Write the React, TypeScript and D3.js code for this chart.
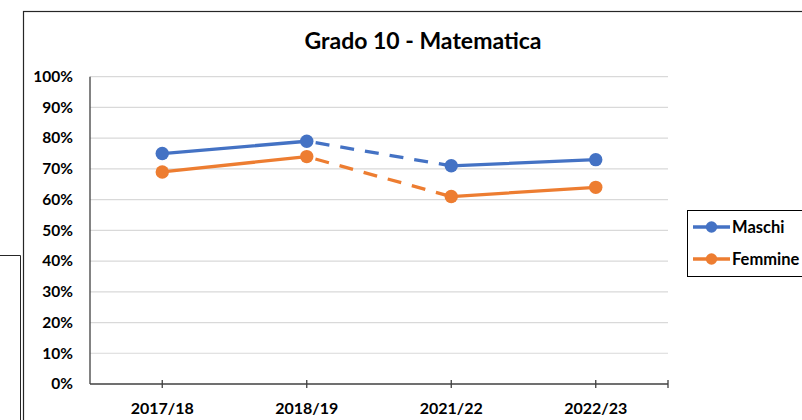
import React, { useEffect, useRef } from 'react';
import * as d3 from 'd3';

const categories = ['2017/18', '2018/19', '2021/22', '2022/23'];
const maschi = [75, 79, 71, 73];
const femmine = [69, 74, 61, 64];
const yTicks = [0, 10, 20, 30, 40, 50, 60, 70, 80, 90, 100];
const seriesNames = ['Maschi', 'Femmine'];
const seriesColors = ['#4472C4', '#ED7D31'];
// index of the segment that is drawn dashed (2018/19 -> 2021/22)
const dashedSegment = 1;

const FONT = 'Lato, Carlito, Calibri, sans-serif';

export default function App() {
  const ref = useRef<SVGSVGElement>(null);

  useEffect(() => {
    const svg = d3.select(ref.current);
    svg.selectAll('*').remove();

    const width = 802;
    const height = 420;
    const plot = { left: 90, right: 668, top: 76.7, bottom: 384 };

    const x = d3.scaleBand<string>().domain(categories).range([plot.left, plot.right]).padding(0);
    const cx = (c: string) => (x(c) as number) + x.bandwidth() / 2;
    const y = d3.scaleLinear().domain([0, 100]).range([plot.bottom, plot.top]);

    svg.append('rect').attr('width', width).attr('height', height).attr('fill', '#fff');

    // chart behind, on the left
    svg.append('path')
      .attr('d', 'M0,255.5 H20.5 V420')
      .attr('fill', 'none')
      .attr('stroke', '#262626')
      .attr('stroke-width', 1);

    // chart frame
    svg.append('rect')
      .attr('x', 23.5).attr('y', 11.5)
      .attr('width', 820).attr('height', 430)
      .attr('fill', '#fff')
      .attr('stroke', '#262626')
      .attr('stroke-width', 1.2);

    svg.append('text')
      .attr('x', 423).attr('y', 49)
      .attr('text-anchor', 'middle')
      .attr('font-family', FONT)
      .attr('font-weight', 700)
      .attr('font-size', 23)
      .attr('fill', '#000')
      .text('Grado 10 - Matematica');

    // gridlines
    svg.append('g').selectAll('line')
      .data(yTicks.filter(t => t > 0))
      .enter().append('line')
      .attr('x1', plot.left).attr('x2', plot.right)
      .attr('y1', d => y(d)).attr('y2', d => y(d))
      .attr('stroke', '#D9D9D9')
      .attr('stroke-width', 1.2);

    // y labels
    svg.append('g').selectAll('text')
      .data(yTicks)
      .enter().append('text')
      .attr('x', 73)
      .attr('y', d => y(d) + 5.3)
      .attr('text-anchor', 'end')
      .attr('font-family', FONT)
      .attr('font-weight', 700)
      .attr('font-size', 15.5)
      .attr('fill', '#000')
      .text(d => d + '%');

    // axes
    svg.append('line')
      .attr('x1', plot.left).attr('x2', plot.left)
      .attr('y1', plot.top).attr('y2', plot.bottom)
      .attr('stroke', '#404040').attr('stroke-width', 1.3);
    svg.append('line')
      .attr('x1', plot.left).attr('x2', plot.right)
      .attr('y1', plot.bottom).attr('y2', plot.bottom)
      .attr('stroke', '#404040').attr('stroke-width', 1.3);

    const tickXs = categories.map(cx).concat([plot.right]);
    svg.append('g').selectAll('line')
      .data(tickXs)
      .enter().append('line')
      .attr('x1', d => d).attr('x2', d => d)
      .attr('y1', plot.bottom - 4).attr('y2', plot.bottom + 4)
      .attr('stroke', '#404040').attr('stroke-width', 1.3);

    svg.append('g').selectAll('text')
      .data(categories)
      .enter().append('text')
      .attr('x', d => cx(d))
      .attr('y', 414)
      .attr('text-anchor', 'middle')
      .attr('font-family', FONT)
      .attr('font-weight', 700)
      .attr('font-size', 16)
      .attr('fill', '#000')
      .text(d => d);

    // series
    const allSeries = [maschi, femmine];
    allSeries.forEach((values, si) => {
      const pts: [number, number][] = values.map((v, i) => [cx(categories[i]), y(v)]);
      const g = svg.append('g');
      for (let i = 0; i < pts.length - 1; i++) {
        g.append('path')
          .attr('d', d3.line()([pts[i], pts[i + 1]]))
          .attr('fill', 'none')
          .attr('stroke', seriesColors[si])
          .attr('stroke-width', 3.3)
          .attr('stroke-linecap', i === dashedSegment ? 'butt' : 'round')
          .attr('stroke-dasharray', i === dashedSegment ? '14 11' : null)
          .attr('stroke-dashoffset', i === dashedSegment ? -9 : null);
      }
      g.selectAll('circle')
        .data(pts)
        .enter().append('circle')
        .attr('cx', d => d[0]).attr('cy', d => d[1])
        .attr('r', 6.7)
        .attr('fill', seriesColors[si]);
    });

    // legend
    const legend = svg.append('g');
    legend.append('rect')
      .attr('x', 687.5).attr('y', 210.5)
      .attr('width', 140).attr('height', 66)
      .attr('fill', '#fff')
      .attr('stroke', '#000')
      .attr('stroke-width', 1);
    seriesNames.forEach((name, i) => {
      const ly = 227 + i * 32;
      legend.append('line')
        .attr('x1', 693).attr('x2', 730)
        .attr('y1', ly).attr('y2', ly)
        .attr('stroke', seriesColors[i])
        .attr('stroke-width', 3.3);
      legend.append('circle')
        .attr('cx', 711.5).attr('cy', ly)
        .attr('r', 5.7)
        .attr('fill', seriesColors[i]);
      legend.append('text')
        .attr('x', 732)
        .attr('y', ly + 5.8)
        .attr('font-family', FONT)
        .attr('font-weight', 700)
        .attr('font-size', 16.5)
        .attr('fill', '#000')
        .text(name);
    });
  }, []);

  return (
    <svg ref={ref} width={802} height={420} style={{ position: 'absolute', left: 0, top: 0, display: 'block' }} />
  );
}
